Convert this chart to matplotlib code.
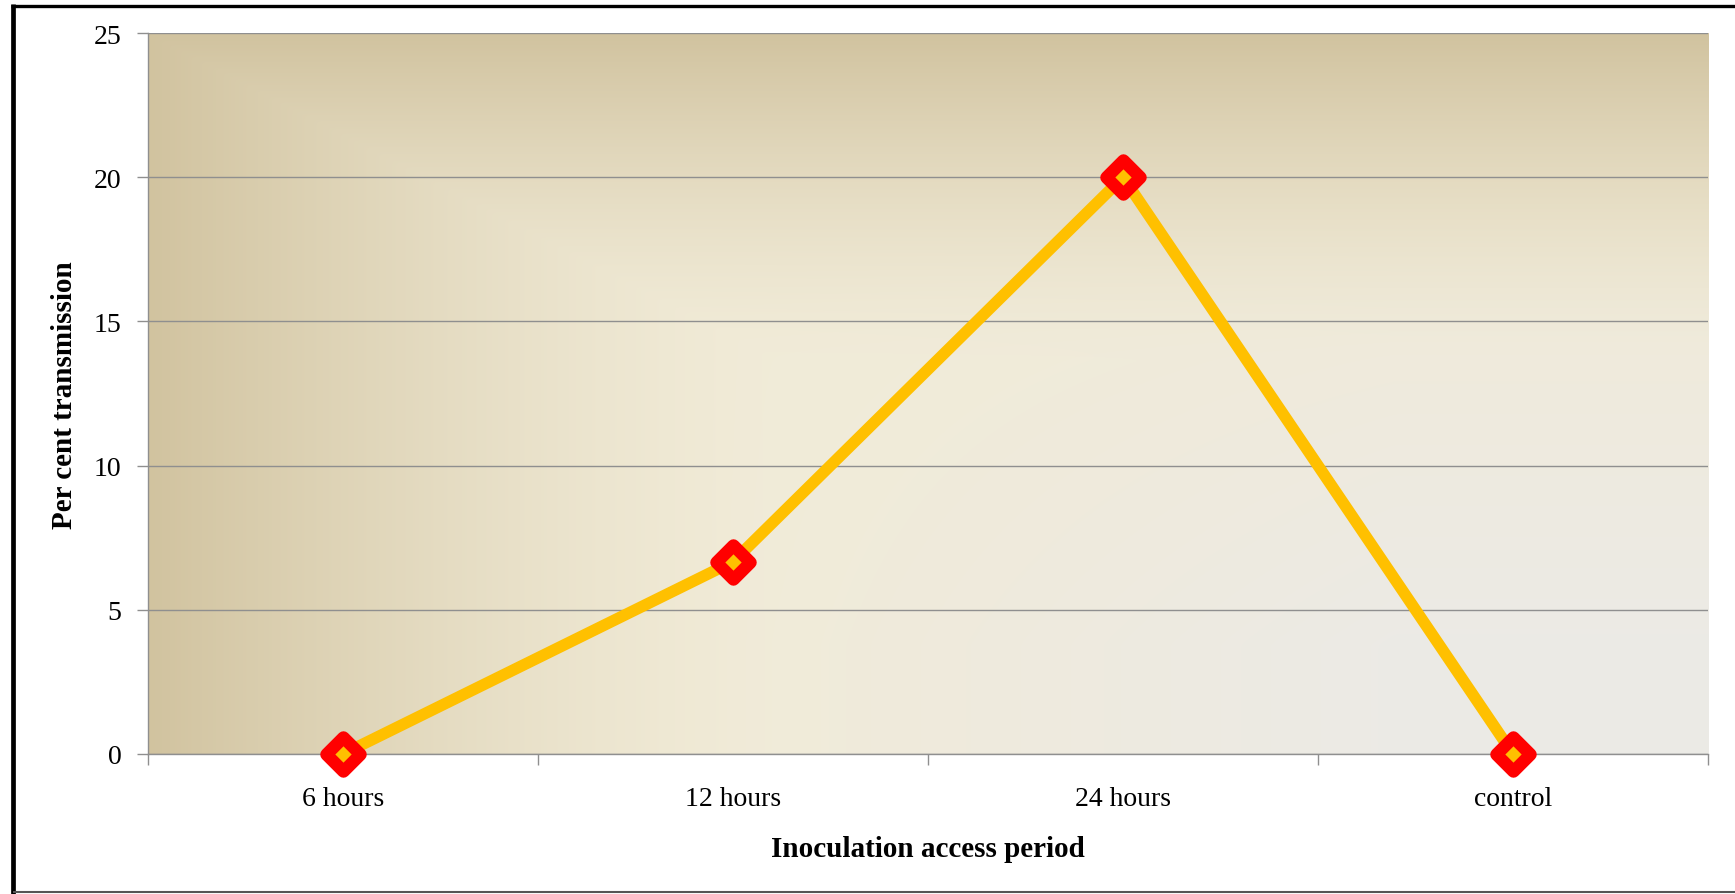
import numpy as np
import matplotlib
matplotlib.use("Agg")
import matplotlib.pyplot as plt
from matplotlib.lines import Line2D
from matplotlib.markers import MarkerStyle

# Data
periods = ["6 hours", "12 hours", "24 hours", "control"]
transmission = [0, 6.67, 20, 0]
y_ticks = [0, 5, 10, 15, 20, 25]

plt.rcParams["font.family"] = ["Liberation Serif", "DejaVu Serif"]

W, H, DPI = 1735, 895, 100
fig = plt.figure(figsize=(W / DPI, H / DPI), dpi=DPI)
fig.patch.set_facecolor("white")

left, right, top, bottom = 148, 1708, 34, 755
ax = fig.add_axes([left / W, 1 - bottom / H, (right - left) / W, (bottom - top) / H])

# Parchment-style background gradient for the plot area
nx, ny = 400, 200
xx, yy = np.meshgrid(np.linspace(0, 1, nx), np.linspace(1, 0, ny))
light = np.array([0.945, 0.922, 0.845])
gray = np.array([0.925, 0.920, 0.900])
tan = np.array([0.820, 0.765, 0.625])
g = np.clip((xx - 0.35) / 0.45, 0, 1) * np.clip((0.75 - yy) / 0.6, 0, 1)
base = light * (1 - g[..., None]) + gray * g[..., None]
wx = np.clip(1 - xx / 0.40, 0, 1) ** 1.5
wy = np.clip(1 - (1 - yy) / 0.45, 0, 1) ** 1.5
t = np.maximum(wx, wy)
img = base * (1 - t[..., None]) + tan * t[..., None]
ax.imshow(img, extent=[-0.5, 3.5, 0, 25], aspect="auto", zorder=0,
          interpolation="bicubic")

x = np.arange(len(periods))
ax.plot(x, transmission, color="#FFC000", lw=8.3, zorder=3,
        solid_capstyle="butt", solid_joinstyle="round")
ax.plot(x, transmission, ls="none", marker=MarkerStyle("D", joinstyle="round"),
        ms=17, mfc="#FFC000", mec="#FF0000", mew=9, zorder=4,
        clip_on=False)

ax.set_xlim(-0.5, 3.5)
ax.set_ylim(0, 25)
ax.set_yticks(y_ticks)
ax.yaxis.grid(True, color="#8f8f8f", lw=1.0)
ax.set_axisbelow(False)
for gl in ax.get_ygridlines():
    gl.set_zorder(1)

# category boundaries carry the tick marks, centres carry the labels
ax.set_xticks(np.arange(-0.5, 4.0, 1.0))
ax.set_xticklabels([])
ax.set_xticks(x, minor=True)
ax.set_xticklabels(periods, minor=True)
ax.tick_params(axis="x", which="major", length=8, color="#8f8f8f", width=1)
ax.tick_params(axis="x", which="minor", length=0, pad=23, labelsize=20)
ax.tick_params(axis="y", length=8, color="#8f8f8f", width=1, pad=11,
               labelsize=20)

for s in ["right", "top"]:
    ax.spines[s].set_visible(False)
for s in ["left", "bottom"]:
    ax.spines[s].set_color("#8f8f8f")
    ax.spines[s].set_linewidth(1)

fig.text(928 / W, 1 - 850 / H, "Inoculation access period", ha="center",
         va="center", fontsize=21, fontweight="bold")
fig.text(64 / W, 1 - 395 / H, "Per cent transmission", ha="center",
         va="center", rotation=90, fontsize=21, fontweight="bold")

# outer frame
fig.add_artist(Line2D([13 / W, 13 / W], [0, 1 - 5 / H], color="black",
                      lw=3.4, solid_capstyle="butt", transform=fig.transFigure))
fig.add_artist(Line2D([11 / W, 1], [1 - 6.5 / H, 1 - 6.5 / H], color="black",
                      lw=2.4, solid_capstyle="butt", transform=fig.transFigure))
fig.add_artist(Line2D([13 / W, 1], [1 - 893 / H, 1 - 893 / H], color="#555555",
                      lw=1.5, solid_capstyle="butt", transform=fig.transFigure))

fig.savefig("out.png", dpi=DPI)
